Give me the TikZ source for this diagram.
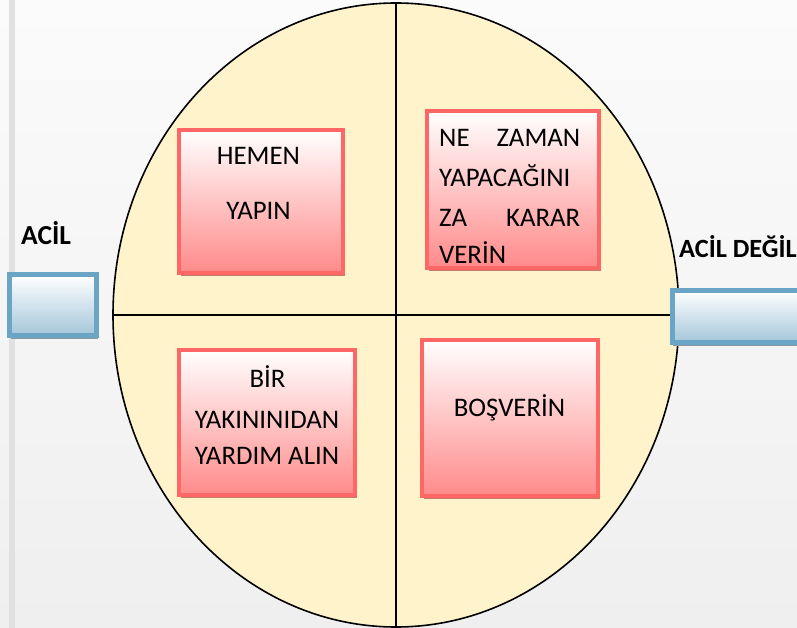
\documentclass[tikz,border=0pt]{standalone}
\usepackage{fontspec}
\setmainfont{Carlito}
\usetikzlibrary{shapes.geometric,shadows}
\definecolor{bgtop}{HTML}{FBFBFB}
\definecolor{bgbot}{HTML}{EFEFEF}
\definecolor{leftbar}{HTML}{E0E0E0}
\definecolor{ellfill}{HTML}{FFF3CC}
\definecolor{redline}{HTML}{FF6666}
\definecolor{redbot}{HTML}{FF8A8A}
\definecolor{redshadow}{HTML}{C27C6A}
\definecolor{blueline}{HTML}{6AA5C6}
\definecolor{bluebot}{HTML}{A4C6DA}
\definecolor{blueshadow}{HTML}{8A98A2}
\tikzset{
  redbox/.style={rectangle, draw=redline, line width=4pt, top color=white, bottom color=redbot,
    inner sep=0pt, drop shadow={shadow xshift=2pt, shadow yshift=-3pt, fill=redshadow, opacity=1}},
  bluebox/.style={rectangle, draw=blueline, line width=5pt, top color=white, bottom color=bluebot,
    inner sep=0pt, drop shadow={shadow xshift=1pt, shadow yshift=-3pt, fill=blueshadow, opacity=1}},
  txt/.style={inner sep=0pt, anchor=base, font=\fontsize{26.8}{39}\selectfont},
  lbl/.style={inner sep=0pt, anchor=base west, font=\fontsize{27.5}{39}\selectfont\bfseries},
  axis/.style={line width=1.6pt, black}
}
\begin{document}
\begin{tikzpicture}[x=1pt,y=-1pt]
\useasboundingbox (0,0) rectangle (797,628);
\clip (0,0) rectangle (797,628);
\shade[top color=bgtop, bottom color=bgbot] (0,0) rectangle (797,628);
\fill[leftbar] (9,0) rectangle (15,628);

\node[ellipse, draw, line width=1.6pt, fill=ellfill, minimum width=566, minimum height=624, inner sep=0pt] (ell) at (396,315) {};
\draw[axis] (ell.north) -- (ell.south);
\draw[axis] (ell.west) -- (ell.east);

\node[redbox, minimum width=164, minimum height=143] (b1) at (261,201.5) {};
\node[redbox, minimum width=172, minimum height=157] (b2) at (513,189.5) {};
\node[redbox, minimum width=176, minimum height=145] (b3) at (267,422.5) {};
\node[redbox, minimum width=176, minimum height=156] (b4) at (510,418) {};

\node[txt] (t1a) at (258.5,164.5) {HEMEN};
\node[txt] (t1b) at (258.5,220) {YAPIN};

\node[txt, anchor=base west] (t2a) at (439,147) {\hbox to 141pt{NE\hfill ZAMAN}};
\node[txt, anchor=base west] (t2b) at (439,186.5) {YAPACAĞINI};
\node[txt, anchor=base west] (t2c) at (439,226.5) {\hbox to 141pt{ZA\hfill KARAR}};
\node[txt, anchor=base west] (t2d) at (439,263.5) {VERİN};

\node[txt] (t3a) at (267.5,387.5) {BİR};
\node[txt] (t3b) at (267,428) {YAKININIDAN};
\node[txt] (t3c) at (267,464) {YARDIM ALIN};

\node[txt] (t4) at (509.5,416.5) {BOŞVERİN};

\node[bluebox, minimum width=87, minimum height=61] (lb) at (53,305) {};
\node[bluebox, minimum width=160, minimum height=52, anchor=west] (rb) at (669.5,316.5) {};

\node[lbl] (acil) at (21,244.5) {ACİL};
\node[lbl, font=\fontsize{26.3}{39}\selectfont\bfseries] (acild) at (679,258) {ACİL DEĞİL};
\end{tikzpicture}
\end{document}
